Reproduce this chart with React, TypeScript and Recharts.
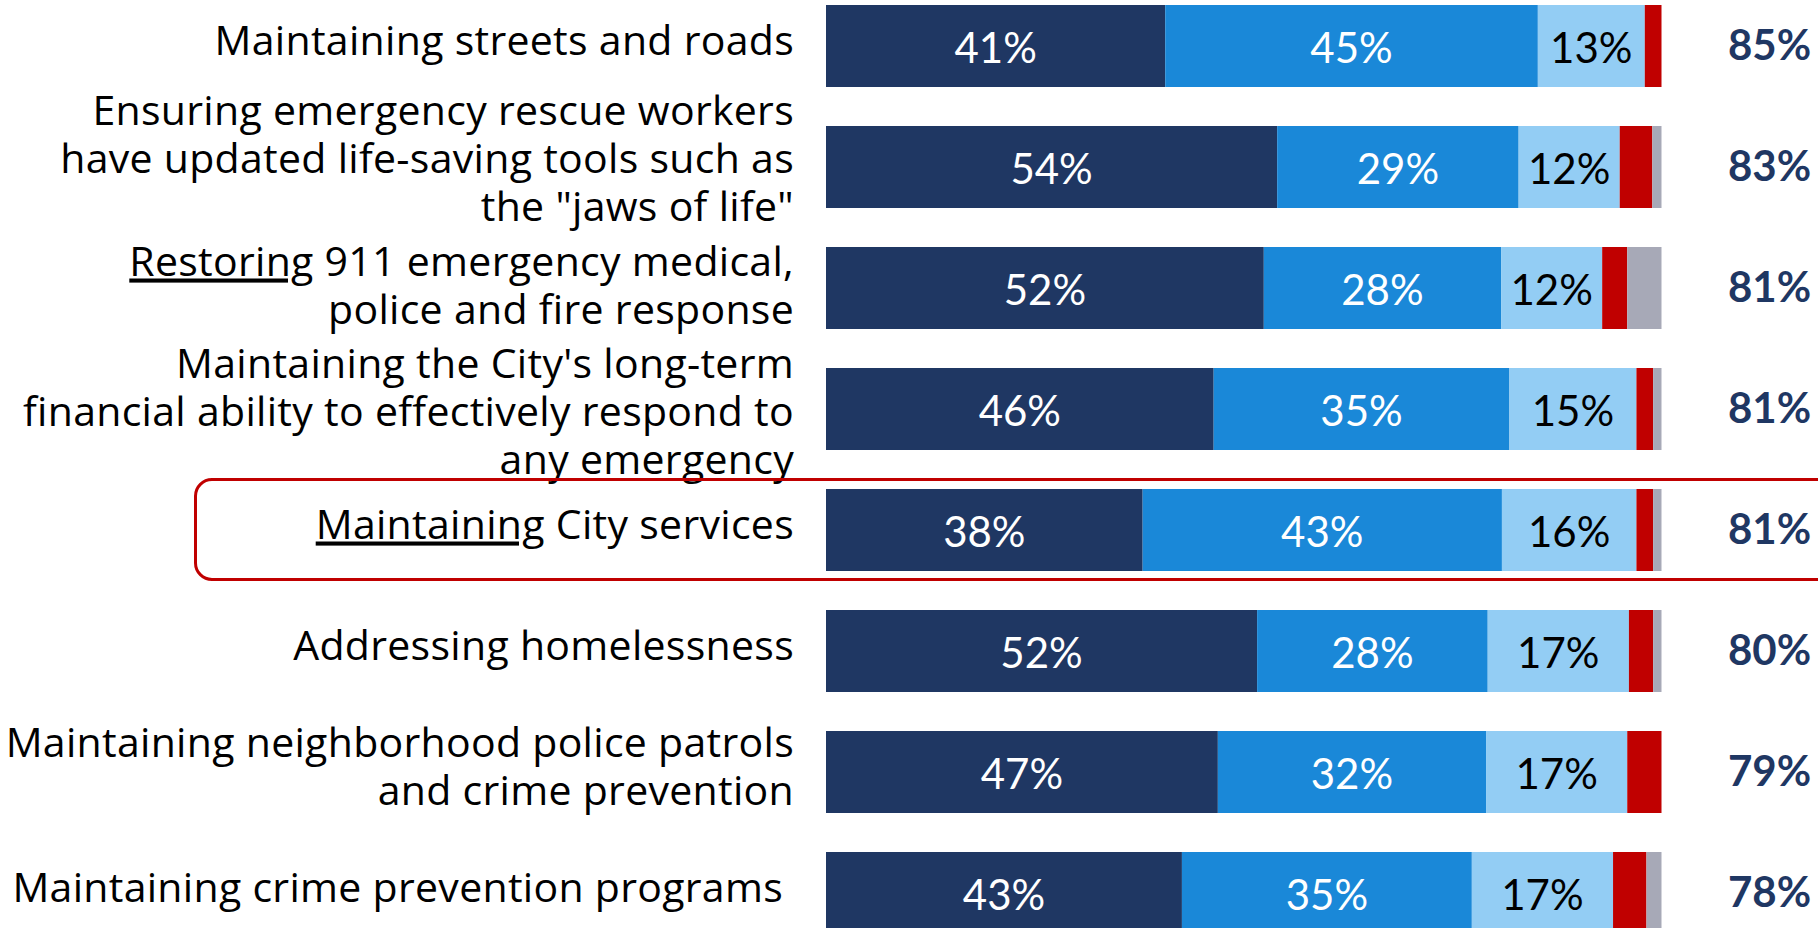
import { BarChart, Bar, XAxis, YAxis, LabelList } from "recharts";

const categoryLines = [
  ["Maintaining streets and roads"],
  ["Ensuring emergency rescue workers", "have updated life-saving tools such as", 'the "jaws of life"'],
  ["Restoring 911 emergency medical,", "police and fire response"],
  ["Maintaining the City's long-term", "financial ability to effectively respond to", "any emergency"],
  ["Maintaining City services"],
  ["Addressing homelessness"],
  ["Maintaining neighborhood police patrols", "and crime prevention"],
  ["Maintaining crime prevention programs\u00a0"],
];
// first word that is underlined in the label, if any
const underlinedWord = ["", "", "Restoring", "", "Maintaining", "", "", ""];

const extremely = [40.6, 54.0, 52.4, 46.4, 37.9, 51.6, 46.9, 42.6];
const very = [44.6, 28.9, 28.4, 35.4, 43.0, 27.6, 32.1, 34.7];
const somewhat = [12.8, 12.1, 12.1, 15.2, 16.1, 16.9, 16.9, 16.9];
const notImportant = [2.0, 3.9, 3.0, 2.0, 2.0, 2.9, 4.1, 4.0];
const dontKnow = [0, 1.1, 4.1, 1.0, 1.0, 1.0, 0, 1.8];
const totalImportant = [85, 83, 81, 81, 81, 80, 79, 78];

const FONT = "Lato, 'Open Sans', sans-serif";
const LABEL_FONT = "'Open Sans', Lato, sans-serif";
const NAVY = "#1F3763";

const data = categoryLines.map((lines, i) => ({
  name: lines.join(" "),
  extremely: extremely[i],
  very: very[i],
  somewhat: somewhat[i],
  notImportant: notImportant[i],
  dontKnow: dontKnow[i],
}));

// small per-row nudges: the 3-line labels in the original sit a bit off-centre
const tickNudge: Record<number, number> = { 1: -3, 2: 3, 3: 8 };

function CategoryTick(props: any) {
  const { x, y, index } = props;
  const lines = categoryLines[index] ?? [];
  const under = underlinedWord[index];
  const lh = 48;
  const base = y - ((lines.length - 1) * lh) / 2 + 9 + (tickNudge[index] ?? 0);
  return (
    <text x={x} textAnchor="end" fontFamily={LABEL_FONT} fontSize={41} letterSpacing={0.3} fill="#000">
      {lines.map((line, li) =>
        li === 0 && under && line.startsWith(under) ? (
          <tspan key={li} x={x} y={base}>
            <tspan style={{ textDecoration: "underline" }}>{under}</tspan>
            {line.slice(under.length)}
          </tspan>
        ) : (
          <tspan key={li} x={x} y={base + li * lh}>
            {line}
          </tspan>
        )
      )}
    </text>
  );
}

function TotalTick(props: any) {
  const { x, y, index } = props;
  return (
    <text x={x} y={y + 14} textAnchor="start" fontFamily={FONT} fontSize={42} fontWeight={700} fill={NAVY}>
      {`${totalImportant[index]}%`}
    </text>
  );
}

const segmentLabel = (color: string) => (props: any) => {
  const { x, y, width, height, value } = props;
  return (
    <text
      x={x + width / 2}
      y={y + height / 2 + 17}
      textAnchor="middle"
      fontFamily={FONT}
      fontSize={42}
      fill={color}
    >
      {`${Math.round(value)}%`}
    </text>
  );
};

export default function App() {
  return (
    <div style={{ position: "absolute", left: 0, top: 0, width: 1818, height: 928, overflow: "hidden", background: "#fff" }}>
      <div style={{ position: "absolute", left: 0, top: -15.5 }}>
        <BarChart
          width={1818}
          height={968}
          data={data}
          layout="vertical"
          margin={{ top: 0, right: 0, bottom: 0, left: 0 }}
        >
          <XAxis type="number" domain={[0, 100]} hide />
          <YAxis
            type="category"
            dataKey="name"
            width={826}
            axisLine={false}
            tickLine={false}
            tickSize={0}
            tickMargin={32}
            interval={0}
            tick={<CategoryTick />}
          />
          <YAxis
            yAxisId="right"
            orientation="right"
            type="category"
            dataKey="name"
            width={156.5}
            axisLine={false}
            tickLine={false}
            tickSize={0}
            tickMargin={66.5}
            interval={0}
            tick={<TotalTick />}
          />
          <Bar dataKey="extremely" name="Extremely important" stackId="a" fill={NAVY} barSize={82} isAnimationActive={false}>
            <LabelList dataKey="extremely" content={segmentLabel("#fff")} />
          </Bar>
          <Bar dataKey="very" name="Very important" stackId="a" fill="#1A88D8" barSize={82} isAnimationActive={false}>
            <LabelList dataKey="very" content={segmentLabel("#fff")} />
          </Bar>
          <Bar dataKey="somewhat" name="Somewhat important" stackId="a" fill="#93CDF4" barSize={82} isAnimationActive={false}>
            <LabelList dataKey="somewhat" content={segmentLabel("#000")} />
          </Bar>
          <Bar dataKey="notImportant" name="Not important" stackId="a" fill="#C00000" barSize={82} isAnimationActive={false} />
          <Bar dataKey="dontKnow" name="Don't know" stackId="a" fill="#A7A9B7" barSize={82} isAnimationActive={false} />
        </BarChart>
      </div>
      {/* highlight box around the City services row */}
      <div
        style={{
          position: "absolute",
          left: 194,
          top: 478,
          width: 1660,
          height: 103,
          border: "3px solid #C00000",
          borderRadius: 18,
          boxSizing: "border-box",
          pointerEvents: "none",
        }}
      />
    </div>
  );
}
